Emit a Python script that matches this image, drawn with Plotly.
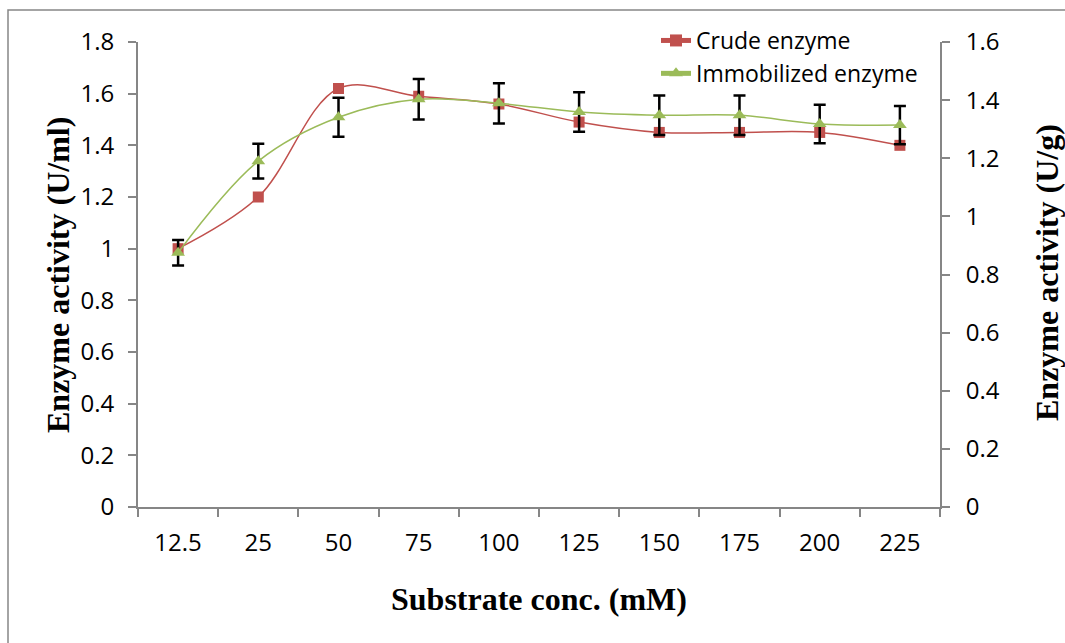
import plotly.graph_objects as go

# Substrate concentrations (mM)
substrate = ["12.5", "25", "50", "75", "100", "125", "150", "175", "200", "225"]

# Crude enzyme activity (U/ml), left axis
crude = [1.00, 1.20, 1.62, 1.59, 1.56, 1.49, 1.45, 1.45, 1.45, 1.40]

# Immobilized enzyme activity (U/g), right axis, with error values
immobilized = [0.875, 1.19, 1.341, 1.403, 1.389, 1.359, 1.348, 1.348, 1.318, 1.314]
immobilized_err = [0.044, 0.060, 0.067, 0.070, 0.069, 0.068, 0.068, 0.068, 0.066, 0.066]

W, H = 1065, 643
L, R, T, B = 138, 125, 42, 136
pw, ph = W - L - R, H - T - B

def px_x(p):
    return (p - L) / pw

def px_y(p):
    return (H - B - p) / ph

RED = "#C0504D"
GREEN = "#9BBB59"
AXIS = "#868686"
TICK_FONT = dict(family="Open Sans", size=24, color="#000000")
TITLE_FONT = dict(family="Liberation Serif", size=32, color="#000000")

fig = go.Figure()

fig.add_trace(go.Scatter(
    x=substrate, y=crude, name="Crude enzyme",
    mode="lines+markers",
    line=dict(color=RED, width=1.5, shape="spline", smoothing=1.0),
    marker=dict(symbol="square", size=11, color=RED),
    yaxis="y",
))

fig.add_trace(go.Scatter(
    x=substrate, y=immobilized, name="Immobilized enzyme",
    mode="lines+markers",
    line=dict(color=GREEN, width=1.5, shape="spline", smoothing=1.0),
    marker=dict(symbol="triangle-up", size=12, color=GREEN),
    error_y=dict(type="data", array=immobilized_err, visible=True,
                 color="#000000", thickness=2.5, width=6),
    yaxis="y2",
))

fig.update_layout(
    width=W, height=H,
    margin=dict(l=L, r=R, t=T, b=B),
    paper_bgcolor="white", plot_bgcolor="white",
    showlegend=True,
    legend=dict(
        x=px_x(656), y=px_y(19), xanchor="left", yanchor="top",
        bgcolor="rgba(0,0,0,0)",
        font=dict(family="Open Sans", size=23, color="#000000"),
        itemsizing="constant", tracegroupgap=2,
    ),
    xaxis=dict(
        type="category", range=[-0.5, 9.5],
        showline=True, linecolor=AXIS, linewidth=2,
        ticks="outside", tickson="boundaries", ticklen=8, tickcolor=AXIS, tickwidth=2,
        ticklabelstandoff=13,
        tickfont=TICK_FONT, showgrid=False, zeroline=False,
    ),
    yaxis=dict(
        range=[0, 1.8], dtick=0.2, tick0=0,
        showline=True, linecolor=AXIS, linewidth=2,
        ticks="outside", ticklen=8, tickcolor=AXIS, tickwidth=2,
        ticklabelstandoff=9,
        tickfont=TICK_FONT, showgrid=False, zeroline=False,
    ),
    yaxis2=dict(
        range=[0, 1.6], dtick=0.2, tick0=0,
        overlaying="y", side="right",
        showline=True, linecolor=AXIS, linewidth=2,
        ticks="outside", ticklen=8, tickcolor=AXIS, tickwidth=2,
        ticklabelstandoff=11,
        tickfont=TICK_FONT, showgrid=False, zeroline=False,
    ),
    shapes=[
        dict(type="rect", xref="paper", yref="paper",
             x0=px_x(8), x1=px_x(W + 20), y0=px_y(H + 20), y1=px_y(10),
             line=dict(color=AXIS, width=1.5), fillcolor="rgba(0,0,0,0)", layer="below"),
    ],
    annotations=[
        dict(text="<b>Substrate conc. (mM)</b>", xref="paper", yref="paper",
             x=px_x(539), y=px_y(599), xanchor="center", yanchor="middle",
             showarrow=False, font=TITLE_FONT),
        dict(text="<b>Enzyme activity (U/ml)</b>", xref="paper", yref="paper",
             x=px_x(58), y=px_y(275), xanchor="center", yanchor="middle",
             textangle=-90, showarrow=False, font=TITLE_FONT),
        dict(text="<b>Enzyme activity (U/g)</b>", xref="paper", yref="paper",
             x=px_x(1047), y=px_y(273), xanchor="center", yanchor="middle",
             textangle=-90, showarrow=False, font=TITLE_FONT),
    ],
)

fig.write_html("out.html")
